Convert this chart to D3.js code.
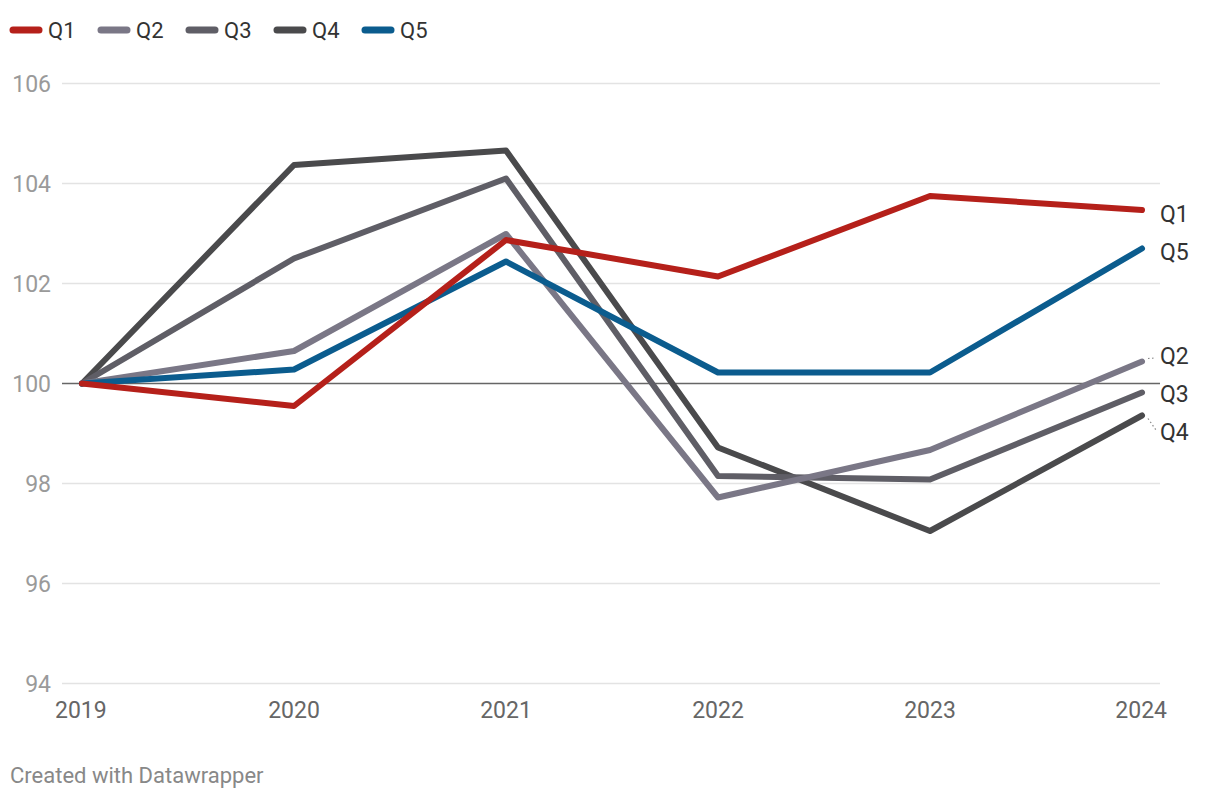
<!DOCTYPE html>
<html><head><meta charset="utf-8">
<script src="https://cdn.jsdelivr.net/npm/d3@7"></script>
<style>body{margin:0;background:#fff;font-family:Roboto,sans-serif}</style>
</head><body><svg id="c" width="1220" height="800"></svg>
<script>
const years = [2019, 2020, 2021, 2022, 2023, 2024];
const seriesNames = ["Q1", "Q2", "Q3", "Q4", "Q5"];
const q1 = [100, 99.55, 102.87, 102.14, 103.75, 103.47];
const q2 = [100, 100.65, 102.99, 97.72, 98.67, 100.44];
const q3 = [100, 102.5, 104.1, 98.15, 98.08, 99.82];
const q4 = [100, 104.37, 104.66, 98.72, 97.05, 99.36];
const q5 = [100, 100.28, 102.44, 100.22, 100.22, 102.7];
const yTicks = [94, 96, 98, 100, 102, 104, 106];
const colors = ["#b5201a", "#7a7786", "#5f5e66", "#4a4a4c", "#0b5c8e"];
const allValues = [q1, q2, q3, q4, q5];

const svg = d3.select("#c");
const x = d3.scalePoint().domain(years).range([82, 1142]);
const y = d3.scaleLinear().domain([94, 106]).range([683.5, 83.5]);

svg.append("g").selectAll("line").data(yTicks.filter(t => t !== 100)).join("line")
  .attr("x1", 62).attr("x2", 1160)
  .attr("y1", d => y(d)).attr("y2", d => y(d))
  .attr("stroke", "#e3e3e3").attr("stroke-width", 1.5);
svg.append("g").selectAll("text").data(yTicks).join("text")
  .attr("x", 51).attr("y", d => y(d) + 8)
  .attr("text-anchor", "end").attr("fill", "#9a9a9a")
  .attr("font-size", 23).text(d => d);
svg.append("line").attr("x1", 62).attr("x2", 1160)
  .attr("y1", y(100)).attr("y2", y(100))
  .attr("stroke", "#666").attr("stroke-width", 1.5);
svg.append("g").selectAll("text").data(years).join("text")
  .attr("x", d => x(d)).attr("y", 718)
  .attr("text-anchor", (d, i) => i === 0 ? "start" : (i === years.length - 1 ? "end" : "middle"))
  .attr("dx", (d, i) => i === 0 ? -27 : (i === years.length - 1 ? 25 : 0))
  .attr("fill", "#666").attr("font-size", 23).text(d => d);

const line = d3.line().x((d, i) => x(years[i])).y(d => y(d));
const order = [3, 2, 1, 4, 0];
svg.append("g").selectAll("path").data(order).join("path")
  .attr("d", i => line(allValues[i]))
  .attr("fill", "none").attr("stroke", i => colors[i])
  .attr("stroke-width", 6).attr("stroke-linejoin", "round").attr("stroke-linecap", "round");

const labelY = [214, 356, 394, 432, 252];
svg.append("g").selectAll("text").data(seriesNames).join("text")
  .attr("x", 1160).attr("y", (d, i) => labelY[i] + 8)
  .attr("fill", "#333").attr("font-size", 23).text(d => d);
[1, 3].forEach(i => {
  const v = allValues[i][5];
  svg.append("line")
    .attr("x1", x(2024) + 6).attr("y1", y(v) + (i === 1 ? -3 : 3))
    .attr("x2", 1156).attr("y2", labelY[i] + (i === 1 ? 2 : -2))
    .attr("stroke", "#888").attr("stroke-width", 1.2).attr("stroke-dasharray", "1.5,2.5");
});

const lg = svg.append("g");
const legX = [10, 98, 186, 274, 362];
seriesNames.forEach((n, i) => {
  lg.append("line").attr("x1", legX[i] + 3).attr("x2", legX[i] + 29)
    .attr("y1", 30).attr("y2", 30).attr("stroke", colors[i])
    .attr("stroke-width", 7).attr("stroke-linecap", "round");
  lg.append("text").attr("x", legX[i] + 38).attr("y", 38)
    .attr("fill", "#333").attr("font-size", 22).text(n);
});

svg.append("text").attr("x", 10).attr("y", 783).attr("fill", "#888")
  .attr("font-size", 22).text("Created with Datawrapper");
</script></body></html>
